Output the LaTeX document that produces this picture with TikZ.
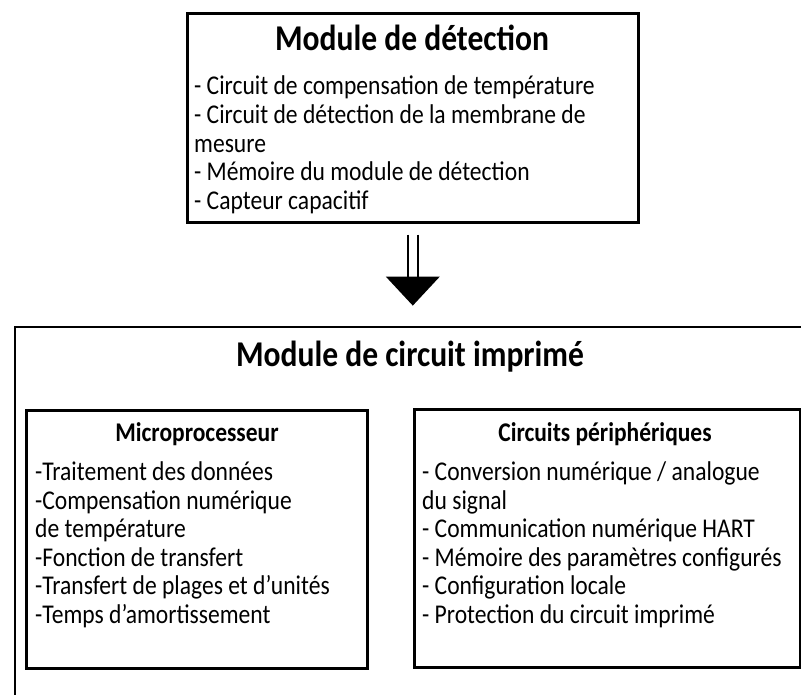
\documentclass[tikz,border=0pt]{standalone}
\usepackage{fontspec}
\setmainfont{Carlito}[FakeStretch=0.87]
\usetikzlibrary{calc}
\newcommand{\linesblock}[2]{\parbox[t]{#1}{\raggedright\fontsize{27.1}{28.6}\selectfont #2}}
\begin{document}
\begin{tikzpicture}[x=1pt,y=-1pt,
  frame/.style={draw=black,line width=2.6pt,inner sep=0pt,anchor=north west},
  bigtitle/.style={inner sep=0pt,anchor=base,font=\bfseries\fontsize{36.3}{40}\selectfont},
  subtitle/.style={inner sep=0pt,anchor=base,font=\bfseries\fontsize{27.0}{30}\selectfont},
  body/.style={inner sep=0pt,anchor=base west},
  shaft/.style={draw=black,line width=1.6pt}
]
\useasboundingbox (0,0) rectangle (801,695);

% detection module
\node[frame,minimum width=451pt,minimum height=209pt] (det) at (186,12) {};
\node[bigtitle] (dettitle) at (412,51) {Module de détection};
\node[body] (detlist) at (194,95) {\linesblock{430pt}{- Circuit de compensation de température\\
- Circuit de détection de la membrane de\\
mesure\\
- Mémoire du module de détection\\
- Capteur capacitif}};

% double-shaft arrow towards the circuit board module
\coordinate (sa) at ($(det.south)+(-5,11)$);
\coordinate (sb) at ($(det.south)+(5,11)$);
\coordinate (sa2) at ($(det.south)+(-5,55)$);
\coordinate (sb2) at ($(det.south)+(5,55)$);
\coordinate (tipl) at ($(det.south)+(-27,53)$);
\coordinate (tipr) at ($(det.south)+(27,53)$);
\coordinate (tip) at ($(det.south)+(0,82)$);
\draw[shaft] (sa) -- (sa2);
\draw[shaft] (sb) -- (sb2);
\fill[black] (tipl) -- (tipr) -- (tip) -- cycle;

% circuit board module (open on the right and at the bottom)
\coordinate (pcbright) at (802,327);
\coordinate (pcbcorner) at (15,327);
\coordinate (pcbbottom) at (15,696);
\draw[line width=2.6pt] (pcbright) -- (pcbcorner) -- (pcbbottom);
\node[bigtitle] (pcbtitle) at (410,366) {Module de circuit imprimé};

% microprocessor
\node[frame,minimum width=341pt,minimum height=258pt] (mpu) at (25,409) {};
\node[subtitle] (mputitle) at (197,441) {Microprocesseur};
\node[body] (mpulist) at (35,480.5) {\linesblock{325pt}{-Traitement des données\\
-Compensation numérique\\
de température\\
-Fonction de transfert\\
-Transfert de plages et d’unités\\
-Temps d’amortissement}};

% peripheral circuits
\node[frame,minimum width=386pt,minimum height=258pt] (per) at (413,408) {};
\node[subtitle] (pertitle) at (605,441) {Circuits périphériques};
\node[body] (perlist) at (422,480.5) {\linesblock{370pt}{- Conversion numérique / analogue\\
du signal\\
- Communication numérique HART\\
- Mémoire des paramètres configurés\\
- Configuration locale\\
- Protection du circuit imprimé}};
\end{tikzpicture}
\end{document}
